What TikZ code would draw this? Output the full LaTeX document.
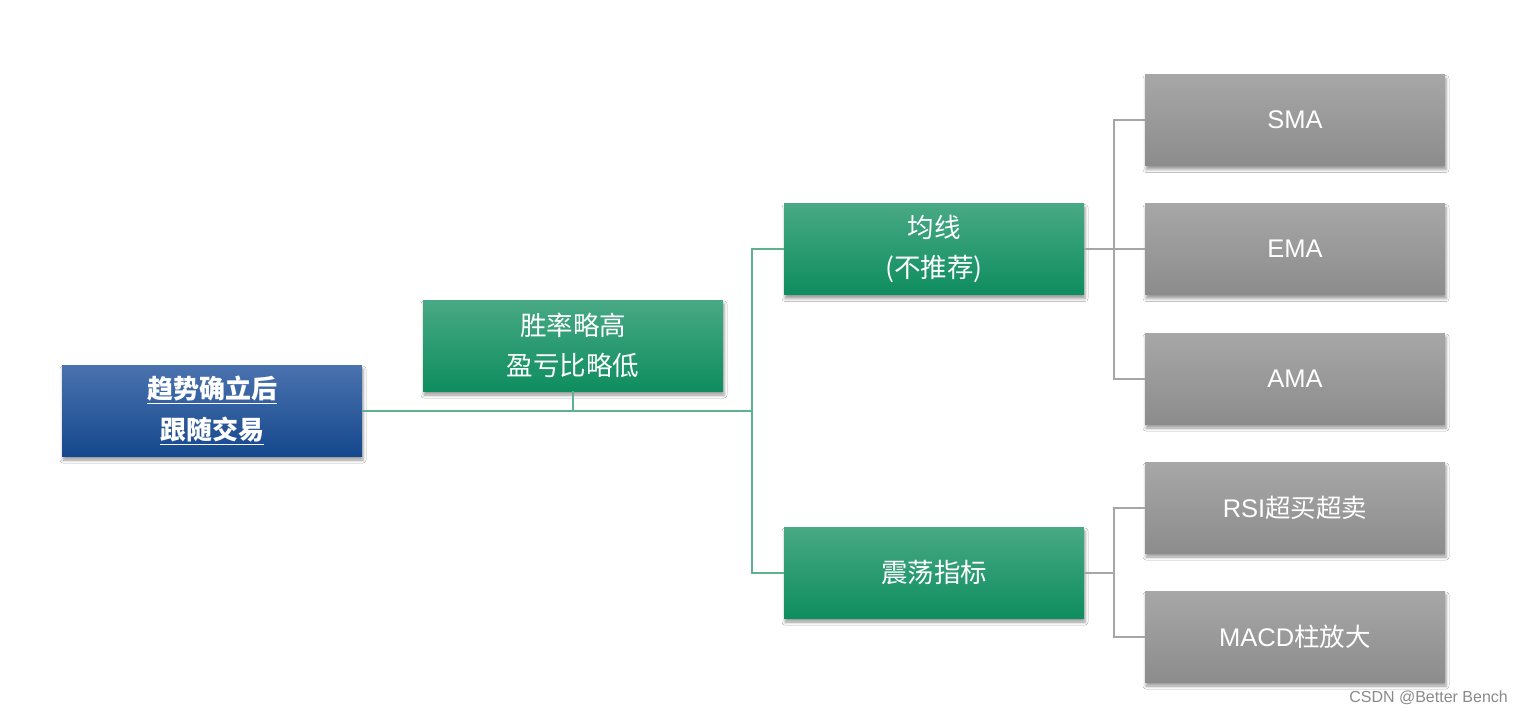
\documentclass[tikz,border=0pt]{standalone}
\usepackage{fontspec}
\setmainfont{Liberation Sans}
\newfontfamily\cjk{Noto Sans CJK SC}
\usetikzlibrary{shadows.blur}
\definecolor{gtop}{HTML}{48A985}
\definecolor{gbot}{HTML}{0E8D5F}
\definecolor{btop}{HTML}{4A72AE}
\definecolor{bbot}{HTML}{15488D}
\definecolor{ytop}{HTML}{A7A7A7}
\definecolor{ybot}{HTML}{8C8C8C}
\definecolor{gline}{HTML}{5FB08F}
\definecolor{yline}{HTML}{A6A6A6}
\definecolor{wm}{HTML}{8A8A8A}
\begin{document}
\begin{tikzpicture}[x=1pt,y=-1pt,
  box/.style={minimum width=300pt, minimum height=91pt, inner sep=0pt, text=white, align=center,
    font=\fontsize{25.5}{40}\selectfont,
    blur shadow={shadow xshift=1pt, shadow yshift=-4pt, shadow blur radius=3pt, shadow opacity=40}},
  cjkfont/.style={font=\fontsize{26.5}{40}\selectfont\cjk},
  bluebox/.style={box, top color=btop, bottom color=bbot, font=\fontsize{26}{41}\selectfont\cjk\bfseries},
  greenbox/.style={box, top color=gtop, bottom color=gbot, cjkfont},
  graybox/.style={box, top color=ytop, bottom color=ybot},
  gconn/.style={draw=gline, line width=2pt},
  yconn/.style={draw=yline, line width=2pt}]
\useasboundingbox[fill=white] (0,0) rectangle (1522,714);

\node[bluebox] (main) at (212,410.5) {\underline{趋势确立后}\\\underline{跟随交易}};
\node[greenbox] (win) at (573,345.5) {胜率略高\\盈亏比略低};
\node[greenbox] (ma) at (934,249) {均线\\(不推荐)};
\node[greenbox] (osc) at (934,572.5) {震荡指标};

\node[graybox] (sma) at (1295,120) {SMA};
\node[graybox] (ema) at (1295,249) {EMA};
\node[graybox] (ama) at (1295,378.5) {AMA};
\node[graybox] (rsi) at (1295,507.5) {RSI{\cjk 超买超卖}};
\node[graybox] (macd) at (1295,636.5) {MACD{\cjk 柱放大}};

\coordinate (j1) at (752,410.5);
\coordinate (g1) at (1114,249);
\coordinate (g2) at (1114,572.5);

\draw[gconn] (main.east) -- (j1);
\draw[gconn] (win.south) -- (win.south |- j1);
\draw[gconn] (ma.west) -| (j1) |- (osc.west);

\draw[yconn] (ma.east) -- (g1);
\draw[yconn] (sma.west) -| (g1) |- (ama.west);
\draw[yconn] (g1) -- (ema.west);
\draw[yconn] (osc.east) -- (g2);
\draw[yconn] (rsi.west) -| (g2) |- (macd.west);

\node[anchor=east, text=wm, font=\fontsize{16}{18}\selectfont, inner sep=0pt] (wmark) at (1508,698) {CSDN @Better Bench};
\end{tikzpicture}
\end{document}
